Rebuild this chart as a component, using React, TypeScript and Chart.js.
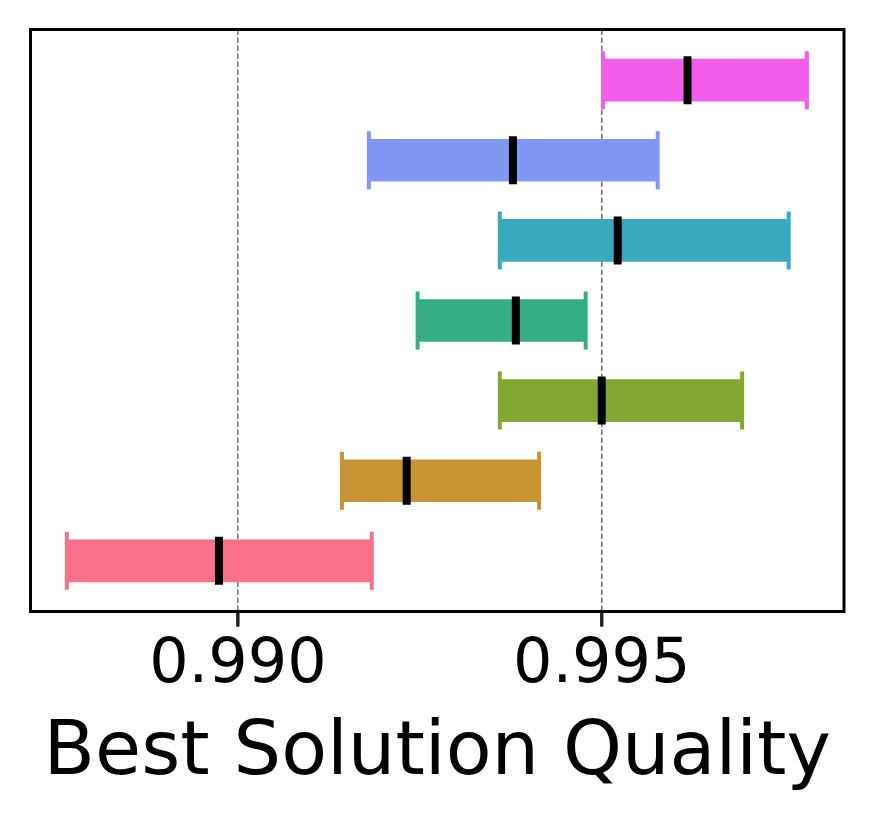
import React, { useEffect, useRef } from "react";
import { Chart, registerables } from "chart.js";

Chart.register(...registerables);

// Rows from bottom (0) to top (6)
const rows = [0, 1, 2, 3, 4, 5, 6];
const lowValues = [0.98765, 0.99143, 0.9936, 0.99247, 0.9936, 0.9918, 0.99502];
const highValues = [0.99184, 0.99414, 0.99693, 0.99478, 0.99757, 0.99577, 0.99782];
const medianValues = [0.98974, 0.99232, 0.995, 0.99382, 0.99522, 0.99378, 0.99618];
const rowColors = ["#f77189", "#c69432", "#82a832", "#35ae86", "#39aabd", "#8197f4", "#f35deb"];
const xTicks = [0.99, 0.995];
const xMin = 0.98715;
const xMax = 0.99833;
const axisTitle = "Best Solution Quality";

const framePlugin = {
  id: "frame",
  afterDraw(chart: any) {
    const { ctx, chartArea } = chart;
    const xScale = chart.scales.x;
    ctx.save();
    ctx.strokeStyle = "#222";
    ctx.lineWidth = 3;
    xScale.ticks.forEach((t: any) => {
      const px = xScale.getPixelForValue(t.value);
      ctx.beginPath();
      ctx.moveTo(px, chartArea.bottom);
      ctx.lineTo(px, chartArea.bottom + 15);
      ctx.stroke();
    });
    ctx.strokeStyle = "#000";
    ctx.strokeRect(chartArea.left, chartArea.top, chartArea.right - chartArea.left, chartArea.bottom - chartArea.top);
    ctx.restore();
  },
};

export default function App() {
  const canvasRef = useRef<HTMLCanvasElement | null>(null);

  useEffect(() => {
    if (!canvasRef.current) return;
    Chart.defaults.font.family = "DejaVu Sans";
    const chart = new Chart(canvasRef.current, {
      type: "bar",
      data: {
        datasets: [
          {
            type: "bar",
            indexAxis: "y",
            data: rows.map((i) => ({ x: [lowValues[i], highValues[i]], y: i })),
            backgroundColor: rowColors,
            borderWidth: 0,
            barThickness: 42,
            order: 3,
          } as any,
          {
            type: "scatter",
            data: rows.map((i) => ({ x: lowValues[i], y: i })),
            showLine: false,
            pointStyle: "line",
            pointRotation: 90,
            pointRadius: 29,
            pointBorderWidth: 4,
            pointBorderColor: rowColors,
            pointBackgroundColor: rowColors,
            order: 2,
          } as any,
          {
            type: "scatter",
            data: rows.map((i) => ({ x: highValues[i], y: i })),
            showLine: false,
            pointStyle: "line",
            pointRotation: 90,
            pointRadius: 29,
            pointBorderWidth: 4,
            pointBorderColor: rowColors,
            pointBackgroundColor: rowColors,
            order: 2,
          } as any,
          {
            type: "scatter",
            data: rows.map((i) => ({ x: medianValues[i], y: i })),
            showLine: false,
            pointStyle: "line",
            pointRotation: 90,
            pointRadius: 24,
            pointBorderWidth: 8,
            pointBorderColor: "#000",
            pointBackgroundColor: "#000",
            order: 1,
          } as any,
        ],
      },
      options: {
        animation: false,
        responsive: false,
        devicePixelRatio: 1,
        layout: { autoPadding: false, padding: { left: 30.5, top: 29.5, right: 29, bottom: 0 } },
        plugins: { legend: { display: false }, tooltip: { enabled: false } },
        scales: {
          x: {
            type: "linear",
            min: xMin,
            max: xMax,
            offset: false,
            afterBuildTicks: (scale: any) => {
              scale.ticks = xTicks.map((v) => ({ value: v }));
            },
            afterFit: (scale: any) => {
              scale.height = 208.5;
            },
            border: { display: false, dash: [5.5, 2.5] },
            grid: {
              offset: false,
              color: "#7a7a7a",
              lineWidth: 1.6,
              drawTicks: true,
              tickLength: 15,
              tickWidth: 3,
              tickColor: "#222",
              tickBorderDash: [],
            },
            ticks: {
              color: "#000",
              padding: 8,
              font: { family: "DejaVu Sans", size: 62, lineHeight: 1.02 },
              callback: (v: any) => Number(v).toFixed(3),
            },
            title: {
              display: true,
              text: axisTitle,
              color: "#000",
              font: { family: "DejaVu Sans", size: 75 },
              padding: { top: 0, bottom: 20 },
            },
          },
          y: {
            type: "linear",
            display: false,
            offset: false,
            min: -0.632,
            max: 6.632,
          },
        },
      },
      plugins: [framePlugin],
    } as any);
    return () => chart.destroy();
  }, []);

  return (
    <div style={{ position: "absolute", left: 0, top: 0, width: 873, height: 820, background: "#fff" }}>
      <canvas ref={canvasRef} width={873} height={820} />
    </div>
  );
}
